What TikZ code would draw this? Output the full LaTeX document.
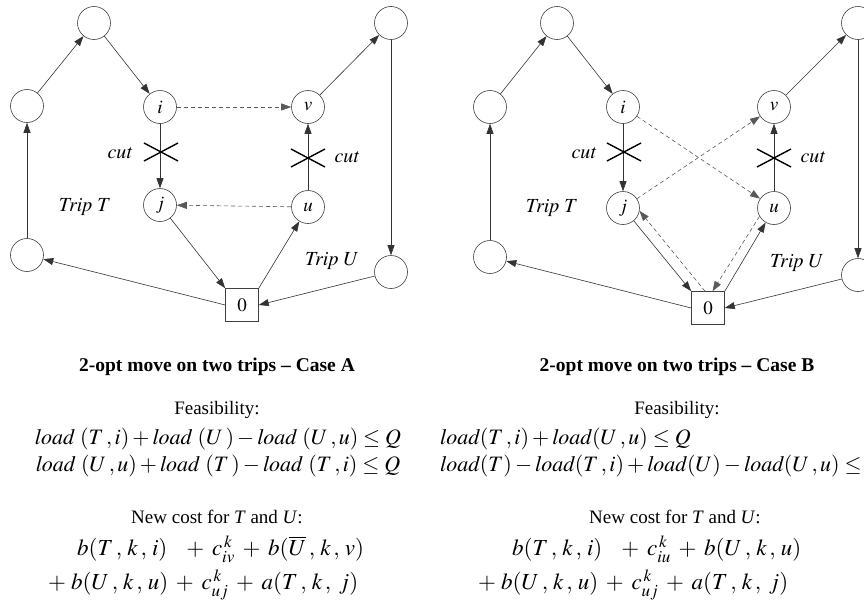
\documentclass[tikz,border=0pt]{standalone}
\usepackage{mathptmx}
\usepackage{fontspec}
\setmainfont{Liberation Serif}
\usetikzlibrary{arrows.meta}
\begin{document}
\begin{tikzpicture}[x=1pt,y=-1pt,
  vtx/.style={circle,draw=black!75,line width=0.6pt,minimum size=33pt,inner sep=0pt,font=\fontsize{19}{20}\selectfont},
  depot/.style={rectangle,draw=black!75,line width=0.6pt,minimum size=33pt,inner sep=0pt,font=\fontsize{19}{20}\selectfont},
  arc/.style={draw=black!80,line width=0.6pt,-{Triangle[length=10pt,width=7pt]}},
  darc/.style={arc,draw=black!65,dash pattern=on 4pt off 3pt},
  crossmark/.style={draw=black,line width=1.4pt},
  lbl/.style={font=\fontsize{20}{22}\selectfont},
  ttl/.style={font=\bfseries\fontsize{19.5}{21}\selectfont},
  txt/.style={font=\fontsize{19}{21}\selectfont},
  eq/.style={inner sep=0pt,font=\fontsize{22}{24}\selectfont},
  ceq/.style={inner sep=0pt,align=left,anchor=west,font={\fontsize{23}{34}\selectfont\medmuskip=6mu plus 2mu minus 1mu\relax}}]
\clip (0,0) rectangle (864,613);
\useasboundingbox (0,0) rectangle (864,613);
\fill[white] (0,0) rectangle (864,613);

% ---------------- Case A ----------------
\node[vtx] (at) at (94,23) {};
\node[vtx] (alm) at (27,106) {};
\node[vtx] (alb) at (27,255) {};
\node[vtx] (ai) at (160,107) {$i$};
\node[vtx] (aj) at (160,205) {$j$};
\node[vtx] (av) at (308,107) {$v$};
\node[vtx] (au) at (308,207) {$u$};
\node[vtx] (art) at (391,23) {};
\node[vtx] (arb) at (391,272) {};
\node[depot] (az) at (242,305) {$0$};

\draw[arc] (alm) -- (at);
\draw[arc] (at) -- (ai);
\draw[arc] (ai) -- (aj);
\draw[darc] (ai) -- (av);
\draw[arc] (au) -- (av);
\draw[darc] (au) -- (aj);
\draw[arc] (aj) -- (az.north west);
\draw[arc] (az.north east) -- (au);
\draw[arc] (az.west) -- (alb);
\draw[arc] (alb) -- (alm);
\draw[arc] (av) -- (art);
\draw[arc] (art) -- (arb);
\draw[arc] (arb) -- (az.east);

\coordinate (acx1) at (161,152);
\coordinate (acx2) at (308,158);
\draw[crossmark] (acx1) ++(-17,-9) -- ++(34,18);
\draw[crossmark] (acx1) ++(-17,9) -- ++(34,-18);
\draw[crossmark] (acx2) ++(-17,-9) -- ++(34,18);
\draw[crossmark] (acx2) ++(-17,9) -- ++(34,-18);
\node[lbl] (acut1) at (120,153) {$\mathit{cut}$};
\node[lbl] (acut2) at (347,157) {$\mathit{cut}$};
\node[lbl] (atripT) at (85,207) {$\mathit{Trip}\ T$};
\node[lbl] (atripU) at (332,261) {$\mathit{Trip}\ U$};

\node[ttl] (atitle) at (217,367) {2-opt move on two trips -- Case A};
\node[txt] (afeas) at (217,410) {Feasibility:};
\node[eq] (afe1) at (218,439) {$\mathit{load}\ (T\,,i)+\mathit{load}\ (U\,)-\mathit{load}\ (U\,,u)\le Q$};
\node[eq] (afe2) at (218,466) {$\mathit{load}\ (U\,,u)+\mathit{load}\ (T\,)-\mathit{load}\ (T\,,i)\le Q$};
\node[txt] (anew) at (217,517) {New cost for \textit{T} and \textit{U}:};
\node[ceq] (acost) at (48,568) {\hspace*{29pt}$b(T\,,\,k\,,\,i)\ \ +c^{\,k}_{iv}+b(\overline{U}\,,\,k\,,\,v)$\\
  $+\;b(U\,,\,k\,,\,u)+c^{\,k}_{uj}+a(T\,,\,k\,,\;j)$};

% ---------------- Case B ----------------
\node[vtx] (bt) at (557,23) {};
\node[vtx] (blm) at (490,107) {};
\node[vtx] (blb) at (490,257) {};
\node[vtx] (bi) at (623,107) {$i$};
\node[vtx] (bj) at (623,208) {$j$};
\node[vtx] (bv) at (774,107) {$v$};
\node[vtx] (bu) at (774,208) {$u$};
\node[vtx] (brt) at (858,23) {};
\node[vtx] (brb) at (858,275) {};
\node[depot] (bz) at (708,308) {$0$};

\draw[arc] (blm) -- (bt);
\draw[arc] (bt) -- (bi);
\draw[arc] (bi) -- (bj);
\draw[darc] (bi) -- (bu);
\draw[darc] (bj) -- (bv);
\draw[arc] (bu) -- (bv);
\draw[arc] (bj.-50) -- (bz.north west);
\draw[darc] (bz.100) -- (bj.-10);
\draw[arc] (bz.north east) -- (bu.-120);
\draw[darc] (bu.-150) -- (bz.75);
\draw[arc] (bz.west) -- (blb);
\draw[arc] (blb) -- (blm);
\draw[arc] (bv) -- (brt);
\draw[arc] (brt) -- (brb);
\draw[arc] (brb) -- (bz.east);

\coordinate (bcx1) at (624,152);
\coordinate (bcx2) at (774,158);
\draw[crossmark] (bcx1) ++(-17,-9) -- ++(34,18);
\draw[crossmark] (bcx1) ++(-17,9) -- ++(34,-18);
\draw[crossmark] (bcx2) ++(-17,-9) -- ++(34,18);
\draw[crossmark] (bcx2) ++(-17,9) -- ++(34,-18);
\node[lbl] (bcut1) at (584,153) {$\mathit{cut}$};
\node[lbl] (bcut2) at (813,157) {$\mathit{cut}$};
\node[lbl] (btripT) at (552,208) {$\mathit{Trip}\ T$};
\node[lbl] (btripU) at (797,263) {$\mathit{Trip}\ U$};

\node[ttl] (btitle) at (677,367) {2-opt move on two trips -- Case B};
\node[txt] (bfeas) at (677,410) {Feasibility:};
\node[eq,anchor=west] (bfe1) at (440,439) {$\mathit{load}(T\,,i)+\mathit{load}(U\,,u)\le Q$};
\node[eq,anchor=west] (bfe2) at (440,466) {$\mathit{load}(T)-\mathit{load}(T\,,i)+\mathit{load}(U)-\mathit{load}(U\,,u)\le Q$};
\node[txt] (bnew) at (675,517) {New cost for \textit{T} and \textit{U}:};
\node[ceq] (bcost) at (478,568) {\hspace*{34pt}$b(T\,,\,k\,,\,i)\ \ +c^{\,k}_{iu}+b(U\,,\,k\,,\,u)$\\
  $+\;b(U\,,\,k\,,\,u)+c^{\,k}_{uj}+a(T\,,\,k\,,\;j)$};
\end{tikzpicture}
\end{document}
